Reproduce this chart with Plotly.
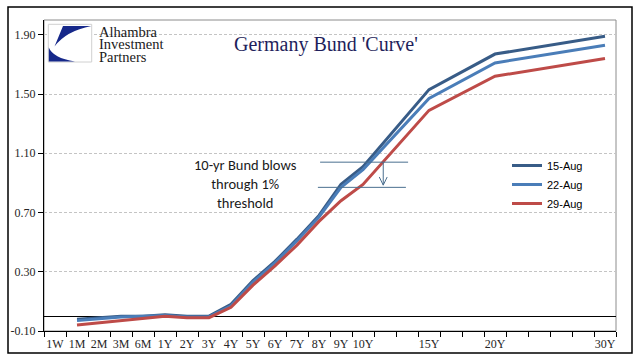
import plotly.graph_objects as go

# ---------------- data ----------------
categories = ["1W", "1M", "2M", "3M", "6M", "1Y", "2Y", "3Y", "4Y", "5Y", "6Y", "7Y", "8Y",
              "9Y", "10Y", "", "", "15Y", "", "", "20Y", "", "", "", "", "30Y"]
aug15 = [None, -0.02, -0.01, 0.00, 0.00, 0.01, 0.00, 0.00, 0.08, 0.24, 0.37, 0.52, 0.68,
         0.89, 1.01, None, None, 1.53, None, None, 1.77, None, None, None, None, 1.89]
aug22 = [None, -0.03, -0.015, -0.005, 0.00, 0.005, -0.005, -0.005, 0.07, 0.23, 0.36, 0.51, 0.67,
         0.87, 0.99, None, None, 1.47, None, None, 1.71, None, None, None, None, 1.83]
aug29 = [None, -0.06, -0.045, -0.03, -0.015, 0.00, -0.01, -0.01, 0.06, 0.21, 0.34, 0.48, 0.64,
         0.78, 0.89, None, None, 1.39, None, None, 1.62, None, None, None, None, 1.74]
series_names = ["15-Aug", "22-Aug", "29-Aug"]
y_ticks = [-0.10, 0.30, 0.70, 1.10, 1.50, 1.90]
y_tick_labels = ["-0.10", "0.30", "0.70", "1.10", "1.50", "1.90"]

# ---------------- geometry helpers (decoration only) ----------------
W, H = 641, 361
L, T, PW, PH = 44, 20, 572, 311


def px_x(px):
    return (px - L) / PW


def px_y(py):
    return (T + PH - py) / PH


xpos = list(range(len(categories)))
colors = ["#385C87", "#4A7DB8", "#BE4B48"]

fig = go.Figure()
for name, vals, col in zip(series_names, [aug15, aug22, aug29], colors):
    fig.add_trace(go.Scatter(x=xpos, y=vals, name=name, mode="lines", connectgaps=True,
                             line=dict(color=col, width=3)))

label_idx = [i for i, c in enumerate(categories) if c]
serif = "Liberation Serif, Times New Roman, serif"

shapes = []
# outer frame
shapes.append(dict(type="rect", xref="paper", yref="paper",
                   x0=px_x(8), x1=px_x(632), y0=px_y(353), y1=px_y(7),
                   line=dict(color="black", width=1.5), layer="below"))
# plot area border (top/right gray)
shapes.append(dict(type="rect", xref="paper", yref="paper", x0=0, x1=1, y0=0, y1=1,
                   line=dict(color="#8C8C8C", width=1), layer="below"))
# logo box
shapes.append(dict(type="rect", xref="paper", yref="paper",
                   x0=px_x(48.3), x1=px_x(91.7), y0=px_y(62), y1=px_y(24.3),
                   line=dict(color="#D0D0D0", width=1), fillcolor="white", layer="above"))

up = "M {a},{b} L {c},{d} Q {e},{f} {g},{h} Z".format(
    a=px_x(63), b=px_y(26), c=px_x(91.3), d=px_y(26), e=px_x(66), f=px_y(31),
    g=px_x(54.5), h=px_y(46.5))
shapes.append(dict(type="path", xref="paper", yref="paper", path=up,
                   fillcolor="#16288A", line=dict(width=0), layer="above"))
low = "M {a},{b} L {c},{d} L {e},{f} Q {g},{h} {a},{b} Z".format(
    a=px_x(48.8), b=px_y(47.5), c=px_x(48.8), d=px_y(61.5), e=px_x(75), f=px_y(61.5),
    g=px_x(53), h=px_y(58))
shapes.append(dict(type="path", xref="paper", yref="paper", path=low,
                   fillcolor="#16288A", line=dict(width=0), layer="above"))

# annotation lines + arrow (data coordinates)
ann_col = "#4A6F8F"
shapes.append(dict(type="line", xref="x", yref="y", x0=12.05, x1=16.05, y0=1.04, y1=1.04,
                   line=dict(color=ann_col, width=1)))
shapes.append(dict(type="line", xref="x", yref="y", x0=11.95, x1=15.95, y0=0.87, y1=0.87,
                   line=dict(color=ann_col, width=1)))
shapes.append(dict(type="line", xref="x", yref="y", x0=14.92, x1=14.92, y0=1.04, y1=0.885,
                   line=dict(color=ann_col, width=1)))
shapes.append(dict(type="line", xref="x", yref="y", x0=14.74, x1=14.92, y0=0.94, y1=0.885,
                   line=dict(color=ann_col, width=1)))
shapes.append(dict(type="line", xref="x", yref="y", x0=15.10, x1=14.92, y0=0.94, y1=0.885,
                   line=dict(color=ann_col, width=1)))

annotations = [
    dict(text="Germany Bund 'Curve'", xref="paper", yref="paper", x=px_x(326), y=px_y(45),
         xanchor="center", yanchor="middle", showarrow=False,
         font=dict(family=serif, size=20, color="#1F1F5C")),
    dict(text="10-yr Bund blows<br>through 1%<br>threshold", xref="paper", yref="paper",
         x=px_x(245.5), y=px_y(184), xanchor="center", yanchor="middle", showarrow=False,
         font=dict(family="Carlito, Lato, sans-serif", size=14.5, color="#1a1a1a")),
]
for txt, yy in [("Alhambra", 32), ("Investment", 44), ("Partners", 56.5)]:
    annotations.append(dict(text=txt, xref="paper", yref="paper", x=px_x(96.5), y=px_y(yy),
                            xanchor="left", yanchor="middle", showarrow=False,
                            font=dict(family=serif, size=14.5, color="#1a1a1a")))

fig.update_layout(
    width=W, height=H,
    margin=dict(l=L, r=W - L - PW, t=T, b=H - T - PH, pad=0),
    paper_bgcolor="white", plot_bgcolor="white",
    showlegend=True,
    legend=dict(x=px_x(507), y=px_y(151), xanchor="left", yanchor="top",
                bgcolor="rgba(0,0,0,0)", font=dict(family="Liberation Sans, Arial", size=11,
                                                   color="black"),
                tracegroupgap=0),
    shapes=shapes,
    annotations=annotations,
    xaxis=dict(range=[-0.5, len(categories) - 0.5], tickmode="array",
               tickvals=label_idx, ticktext=[categories[i] for i in label_idx],
               ticks="", showgrid=False, zeroline=False,
               showline=True, linecolor="black", linewidth=1,
               tickfont=dict(family=serif, size=12, color="#262626"),
               ticklabelstandoff=2,
               minor=dict(tick0=-0.5, dtick=1, ticks="outside", ticklen=5,
                          tickcolor="black", tickwidth=1, showgrid=False),
               automargin=False, fixedrange=True),
    yaxis=dict(range=[-0.1, 2.0], tickmode="array", tickvals=y_ticks, ticktext=y_tick_labels,
               ticks="outside", ticklen=5, tickcolor="black",
               showline=True, linecolor="black", linewidth=1,
               showgrid=True, gridcolor="#C4C4C4", griddash="3px,2px", gridwidth=1,
               zeroline=True, zerolinecolor="black", zerolinewidth=1,
               tickfont=dict(family=serif, size=12, color="#262626"),
               automargin=False, fixedrange=True),
)

fig.write_html("out.html", config={"displayModeBar": False},
               post_script="document.body.style.margin='0';")
